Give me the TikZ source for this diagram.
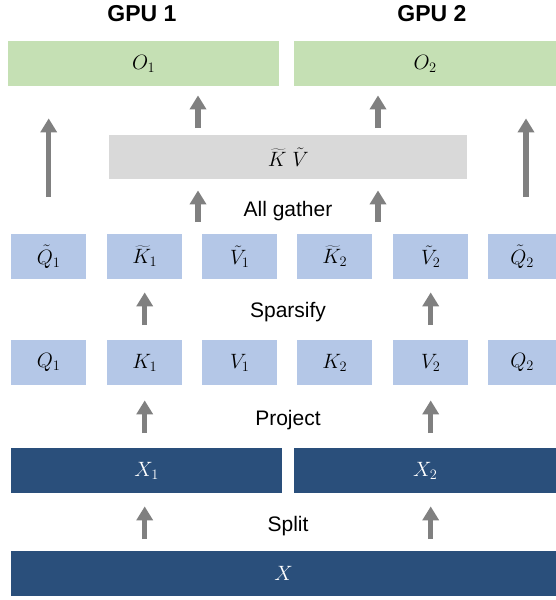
\documentclass[tikz,border=0pt]{standalone}
\usepackage{fontspec}
\setmainfont{Liberation Sans}
\usetikzlibrary{arrows.meta}
\definecolor{greenbox}{HTML}{C5E0B4}
\definecolor{graybox}{HTML}{D9D9D9}
\definecolor{bluebox}{HTML}{B4C7E7}
\definecolor{darkbox}{HTML}{2A4F7B}
\definecolor{arrowgray}{HTML}{808080}
\begin{document}
\begin{tikzpicture}[x=1pt,y=-1pt,
  box/.style={anchor=north west, inner sep=0pt, minimum height=45pt, font=\fontsize{20}{24}\selectfont},
  gbox/.style={box, fill=greenbox, minimum height=45pt},
  grbox/.style={box, fill=graybox, minimum height=44pt},
  lbox/.style={box, fill=bluebox, minimum width=75pt},
  dbox/.style={box, fill=darkbox, text=white},
  lbl/.style={anchor=base, inner sep=0pt, font=\fontsize{21}{25}\selectfont},
  gpu/.style={anchor=base, inner sep=0pt, font=\fontsize{23}{27}\selectfont\bfseries},
  up/.style={draw=arrowgray, line width=5.3pt, -{Triangle[width=16pt,length=14pt]}}
]
\useasboundingbox (0,0) rectangle (556,600);
\fill[white] (0,0) rectangle (556,600);

% titles
\node[gpu] (g1) at (142,21) {GPU 1};
\node[gpu] (g2) at (432,21) {GPU 2};

% outputs
\node[gbox, minimum width=271pt] (O1) at (8,41) {$O_1$};
\node[gbox, minimum width=262pt] (O2) at (294,41) {$O_2$};

% gathered
\node[grbox, minimum width=358pt] (KV) at (109,135) {$\widetilde{K}\;\tilde{V}$};

% sparsified row
\node[lbox] (Qt1) at (11,234) {$\tilde{Q}_1$};
\node[lbox] (Kt1) at (107,234) {$\widetilde{K}_1$};
\node[lbox] (Vt1) at (202,234) {$\tilde{V}_1$};
\node[lbox] (Kt2) at (297,234) {$\widetilde{K}_2$};
\node[lbox] (Vt2) at (393,234) {$\tilde{V}_2$};
\node[lbox, minimum width=68pt] (Qt2) at (488,234) {$\tilde{Q}_2$};

% projected row
\node[lbox] (Q1) at (11,340) {$Q_1$};
\node[lbox] (K1) at (107,340) {$K_1$};
\node[lbox] (V1) at (202,340) {$V_1$};
\node[lbox] (K2) at (297,340) {$K_2$};
\node[lbox] (V2) at (393,340) {$V_2$};
\node[lbox, minimum width=68pt] (Q2) at (488,340) {$Q_2$};

% split inputs
\node[dbox, minimum width=271pt] (X1) at (11,448) {$X_1$};
\node[dbox, minimum width=262pt] (X2) at (294,448) {$X_2$};
\node[dbox, minimum width=545pt] (X) at (11,551) {$X$};

% labels
\node[lbl] (lag) at (288,216) {All gather};
\node[lbl] (lsp) at (288,317) {Sparsify};
\node[lbl] (lpr) at (288,425) {Project};
\node[lbl] (lsl) at (288,531) {Split};

% arrow anchors
\coordinate (ag1) at (198,234);
\coordinate (ag2) at (378,234);
\coordinate (rq) at (526,234);

% arrows
\draw[up, shorten <=12pt, shorten >=13pt] (X.north -| K1) -- (X1.south -| K1);
\draw[up, shorten <=12pt, shorten >=13pt] (X.north -| V2) -- (X2.south -| V2);
\draw[up, shorten <=15pt, shorten >=15pt] (X1.north -| K1) -- (K1.south);
\draw[up, shorten <=15pt, shorten >=15pt] (X2.north -| V2) -- (V2.south);
\draw[up, shorten <=15pt, shorten >=13pt] (K1.north) -- (Kt1.south);
\draw[up, shorten <=15pt, shorten >=13pt] (V2.north) -- (Vt2.south);
\draw[up, shorten <=12pt, shorten >=11pt] (ag1) -- (ag1 |- KV.south);
\draw[up, shorten <=12pt, shorten >=11pt] (ag2) -- (ag2 |- KV.south);
\draw[up, shorten <=7pt, shorten >=9pt] (ag1 |- KV.north) -- (ag1 |- O1.south);
\draw[up, shorten <=7pt, shorten >=9pt] (ag2 |- KV.north) -- (ag2 |- O2.south);
\draw[up, shorten <=37pt, shorten >=32pt] (Qt1.north) -- (Qt1.north |- O1.south);
\draw[up, shorten <=37pt, shorten >=32pt] (rq) -- (rq |- O2.south);
\end{tikzpicture}
\end{document}
